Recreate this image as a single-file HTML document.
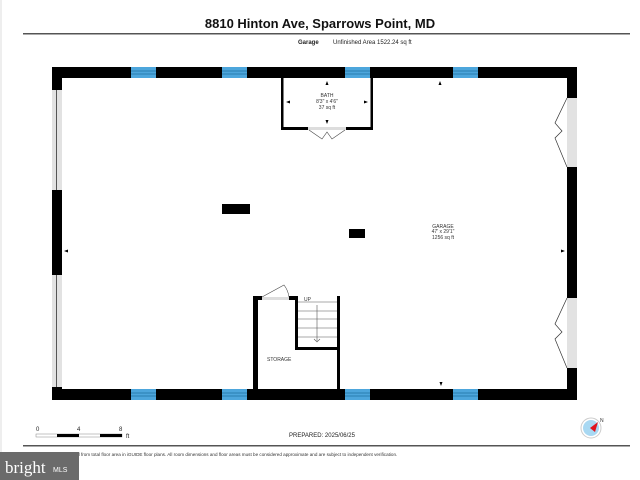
<!DOCTYPE html>
<html><head><meta charset="utf-8"><style>
html,body{margin:0;padding:0;background:#fff;}
svg{display:block;font-family:"Liberation Sans",Arial,sans-serif;}
</style></head><body>
<svg width="640" height="480" viewBox="0 0 640 480" xmlns="http://www.w3.org/2000/svg">
<defs>
<g id="winH"><rect x="0" y="0" width="25" height="11" fill="#4da6dc"/><line x1="0" y1="4" x2="25" y2="4" stroke="#1e6fa0" stroke-width="0.8"/><line x1="0" y1="7" x2="25" y2="7" stroke="#1e6fa0" stroke-width="0.8"/></g>
</defs>
<rect width="640" height="480" fill="#fff"/>
<rect x="0" y="0" width="2" height="480" fill="#eee"/>
<text x="320" y="28" text-anchor="middle" font-size="13" font-weight="bold" fill="#111">8810 Hinton Ave, Sparrows Point, MD</text>
<rect x="23" y="33" width="607" height="1.5" fill="#555"/>
<text x="298" y="44" font-size="6" font-weight="bold" fill="#222">Garage</text>
<text x="333" y="44" font-size="6" fill="#222">Unfinished Area 1522.24 sq ft</text>

<!-- outer walls -->
<rect x="52" y="67" width="525" height="11" fill="#000"/>
<rect x="52" y="389" width="525" height="11" fill="#000"/>
<rect x="52" y="67" width="10" height="23" fill="#000"/>
<rect x="52" y="190" width="10" height="85" fill="#000"/>
<rect x="52" y="387" width="10" height="13" fill="#000"/>
<rect x="52" y="90" width="10" height="100" fill="#e2e2e2"/>
<rect x="56" y="90" width="1" height="100" fill="#555"/>
<rect x="52" y="275" width="10" height="112" fill="#e2e2e2"/>
<rect x="56" y="275" width="1" height="112" fill="#555"/>
<rect x="567" y="67" width="10" height="31" fill="#000"/>
<rect x="567" y="167" width="10" height="131" fill="#000"/>
<rect x="567" y="368" width="10" height="32" fill="#000"/>
<rect x="567" y="98" width="10" height="69" fill="#e2e2e2"/>
<rect x="567" y="298" width="10" height="70" fill="#e2e2e2"/>
<polyline points="567,98 555,123 562,131 555,138 567,167" fill="none" stroke="#333" stroke-width="0.7"/>
<polyline points="567,298 555,324 562,332 555,339 567,368" fill="none" stroke="#333" stroke-width="0.7"/>

<!-- windows -->
<use href="#winH" x="131" y="67"/><use href="#winH" x="222" y="67"/><use href="#winH" x="345" y="67"/><use href="#winH" x="453" y="67"/>
<use href="#winH" x="131" y="389"/><use href="#winH" x="222" y="389"/><use href="#winH" x="345" y="389"/><use href="#winH" x="453" y="389"/>

<!-- bath -->
<rect x="281" y="78" width="2.5" height="52" fill="#000"/>
<rect x="370.5" y="78" width="2.5" height="52" fill="#000"/>
<rect x="281" y="127" width="27" height="3" fill="#000"/>
<rect x="346" y="127" width="27" height="3" fill="#000"/>
<rect x="308" y="127" width="38" height="3" fill="#ddd"/>
<polyline points="309,130 322,139 327,132 332,139 345,130" fill="none" stroke="#444" stroke-width="0.6"/>
<text x="327" y="97" text-anchor="middle" font-size="5" fill="#333">BATH</text>
<text x="327" y="103" text-anchor="middle" font-size="5" fill="#333">8'3" x 4'6"</text>
<text x="327" y="109" text-anchor="middle" font-size="5" fill="#333">37 sq ft</text>
<polygon points="327,81 325.5,85 328.5,85" fill="#000"/>
<polygon points="327,124 325.5,120 328.5,120" fill="#000"/>
<polygon points="286,102 290,100.5 290,103.5" fill="#000"/>
<polygon points="368,102 364,100.5 364,103.5" fill="#000"/>
<polygon points="440,81 438.5,85 441.5,85" fill="#000"/>
<polygon points="441,386 439.5,382 442.5,382" fill="#000"/>
<polygon points="64,251 68,249.5 68,252.5" fill="#000"/>
<polygon points="565,251 561,249.5 561,252.5" fill="#000"/>

<!-- objects -->
<rect x="222" y="204" width="28" height="10" fill="#000"/>
<rect x="349" y="229" width="16" height="9" fill="#000"/>
<text x="443" y="228" text-anchor="middle" font-size="5" fill="#333">GARAGE</text>
<text x="443" y="233" text-anchor="middle" font-size="5" fill="#333">47' x 29'1"</text>
<text x="443" y="239" text-anchor="middle" font-size="5" fill="#333">1256 sq ft</text>

<!-- storage / stair -->
<rect x="253" y="296" width="5" height="93" fill="#000"/>
<rect x="253" y="296" width="9" height="4" fill="#000"/>
<rect x="289" y="296" width="9" height="4" fill="#000"/>
<rect x="262" y="297" width="27" height="3" fill="#ddd"/>
<path d="M262,297 L284,285 A25,25 0 0 1 289,297" fill="none" stroke="#444" stroke-width="0.6"/>
<rect x="295" y="296" width="3" height="54" fill="#000"/>
<rect x="295" y="347" width="45" height="3" fill="#000"/>
<rect x="337" y="296" width="3" height="93" fill="#000"/>
<g stroke="#555" stroke-width="0.6">
<line x1="298" y1="302" x2="337" y2="302"/><line x1="298" y1="311" x2="337" y2="311"/><line x1="298" y1="319" x2="337" y2="319"/><line x1="298" y1="328" x2="337" y2="328"/><line x1="298" y1="337" x2="337" y2="337"/>
<line x1="317" y1="305" x2="317" y2="341"/>
</g>
<path d="M314,339 L317,342 L320,339" fill="none" stroke="#555" stroke-width="0.6"/>
<text x="304" y="301" font-size="5" fill="#333">UP</text>
<text x="267" y="361" font-size="5" fill="#333">STORAGE</text>

<!-- footer -->
<text x="36" y="431" font-size="6" fill="#222">0</text>
<text x="77" y="431" font-size="6" fill="#222">4</text>
<text x="119" y="431" font-size="6" fill="#222">8</text>
<rect x="36" y="434" width="86" height="3" fill="#fff" stroke="#888" stroke-width="0.5"/>
<rect x="57" y="434" width="22" height="3" fill="#000"/>
<rect x="100" y="434" width="22" height="3" fill="#000"/>
<text x="126" y="438" font-size="6" fill="#222">ft</text>
<text x="322" y="437" text-anchor="middle" font-size="6" fill="#222">PREPARED: 2025/06/25</text>
<circle cx="591" cy="428" r="10" fill="#fff" stroke="#ccc" stroke-width="1"/>
<circle cx="591" cy="428" r="8" fill="#a8d8f2"/>
<polygon points="598,422 590,428 595,432" fill="#e0141e"/>
<text x="600" y="422" font-size="5" fill="#333">N</text>
<rect x="23" y="445" width="607" height="1.5" fill="#555"/>
<text x="24" y="456" font-size="4.6" fill="#333">White regions are excluded from total floor area in iGUIDE floor plans. All room dimensions and floor areas must be considered approximate and are subject to independent verification.</text>
<rect x="0" y="452" width="79" height="28" fill="#6b6b6b"/>
<text x="5" y="473" font-size="17" font-family="Liberation Serif,serif" fill="#fff">bright</text>
<text x="53" y="472" font-size="7" fill="#fff">MLS</text>
</svg>
</body></html>
